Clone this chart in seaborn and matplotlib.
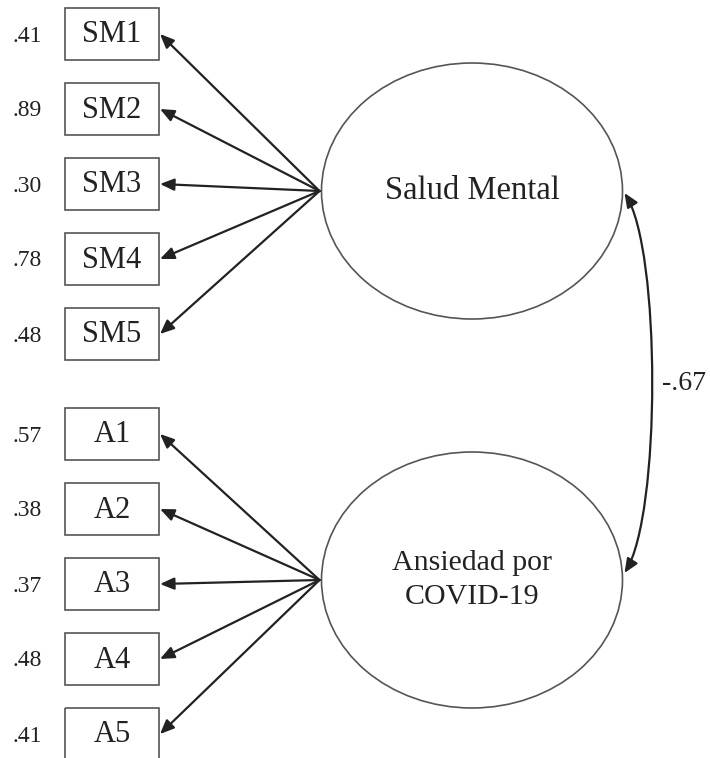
import matplotlib
matplotlib.use("Agg")
import matplotlib.pyplot as plt
import seaborn as sns
from matplotlib.patches import Rectangle, Ellipse, FancyArrowPatch
from matplotlib.path import Path

# ---- data ----
sm_items = ["SM1", "SM2", "SM3", "SM4", "SM5"]
sm_errors = [".41", ".89", ".30", ".78", ".48"]
a_items = ["A1", "A2", "A3", "A4", "A5"]
a_errors = [".57", ".38", ".37", ".48", ".41"]
factors = ["Salud Mental", "Ansiedad por\nCOVID-19"]
correlation = "-.67"

sns.set_theme(style="white")
plt.rcParams['font.family'] = ['Liberation Serif', 'DejaVu Serif']

W, H = 710, 758
fig = plt.figure(figsize=(W / 100, H / 100), dpi=100)
ax = fig.add_axes([0, 0, 1, 1])
ax.set_xlim(0, W)
ax.set_ylim(H, 0)
ax.axis("off")

# layout
box_x0, box_w, box_h, step = 65, 94, 52, 75
group_top = [8, 408]
ell_cx, ell_w, ell_h = 472, 301, 256
ell_cy = [191, 580]
txt_col = "#222222"
line_col = "#222222"
edge_col = "#555555"

groups = [(sm_items, sm_errors), (a_items, a_errors)]
fsizes = [23.5, 21.5]
for g, (items, errs) in enumerate(groups):
    cy_f = ell_cy[g]
    ax.add_patch(Ellipse((ell_cx, cy_f), ell_w, ell_h, fill=False,
                         edgecolor=edge_col, lw=1.2))
    ax.text(ell_cx, cy_f, factors[g], ha="center", va="center",
            fontsize=fsizes[g], color=txt_col, linespacing=1.45)
    src = (ell_cx - ell_w / 2 - 2, cy_f)
    for i, (lab, err) in enumerate(zip(items, errs)):
        top = group_top[g] + i * step
        cy = top + box_h / 2
        ax.add_patch(Rectangle((box_x0, top), box_w, box_h, fill=False,
                               edgecolor=edge_col, lw=1.2))
        ax.text(box_x0 + box_w / 2, cy + 1, lab, ha="center", va="center",
                fontsize=22, color=txt_col)
        ax.text(42, cy + 2, err, ha="right", va="center",
                fontsize=17, color=txt_col)
        ax.add_patch(FancyArrowPatch(src, (box_x0 + box_w + 1, cy),
                                     arrowstyle="-|>,head_length=0.7,head_width=0.3",
                                     mutation_scale=12, lw=1.6, color=line_col,
                                     shrinkA=0, shrinkB=0))

# correlation double-headed curve
p0 = (ell_cx + ell_w / 2 + 2, ell_cy[0] + 2)
p3 = (ell_cx + ell_w / 2 + 2, ell_cy[1] - 7)
verts = [p0, (661, 250), (661, 515), p3]
codes = [Path.MOVETO, Path.CURVE4, Path.CURVE4, Path.CURVE4]
ax.add_patch(FancyArrowPatch(path=Path(verts, codes),
                             arrowstyle="<|-|>,head_length=0.7,head_width=0.3",
                             mutation_scale=12, lw=1.6, color=line_col))
ax.text(662, 383, correlation, ha="left", va="center", fontsize=20,
        color=txt_col)

fig.savefig("out.png", dpi=100)
